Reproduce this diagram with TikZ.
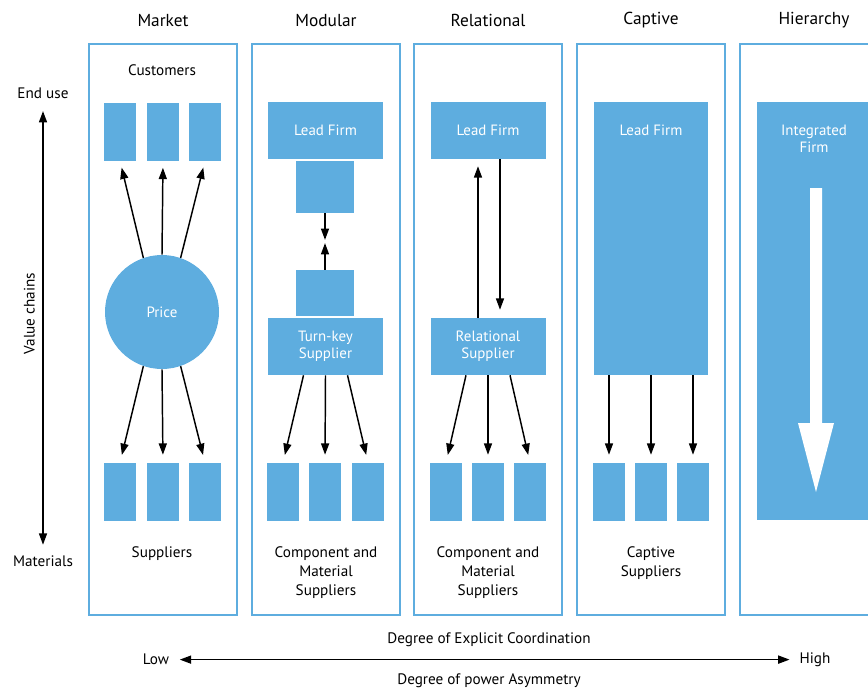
\documentclass[tikz,border=0pt]{standalone}
\usepackage{fontspec}
\setmainfont{PT Sans}
\usetikzlibrary{arrows.meta}
\definecolor{gvcblue}{RGB}{94,173,223}

\tikzset{
  frame/.style={draw=gvcblue, line width=1.3pt},
  blk/.style={fill=gvcblue, inner sep=0pt, text=white, align=center,
    font=\fontsize{11.2}{12.75}\selectfont},
  unit/.style={blk, minimum width=24pt, minimum height=43.5pt},
  firm/.style={blk, minimum width=86.25pt, minimum height=42.75pt},
  lbl/.style={align=center, yshift=-1.2pt, font=\fontsize{11.4}{14.25}\selectfont},
  ttl/.style={yshift=-0.8pt, font=\fontsize{13}{15}\selectfont},
  arr/.style={-{Triangle[length=8.5pt,width=6pt]}, line width=1.1pt},
  dbl/.style={{Triangle[length=8.5pt,width=6pt]}-{Triangle[length=8.5pt,width=6pt]}, line width=1.1pt},
}

\begin{document}
\begin{tikzpicture}[x=0.75pt,y=-0.75pt]
  \clip (0,0) rectangle (868,687);

  % panels and titles
  \foreach \px/\pname/\ptext in {89/market/Market,252/modular/Modular,414/relational/Relational,577/captive/Captive,740/hierarchy/Hierarchy}{
    \draw[frame] (\px,44) rectangle ++(148,571);
    \node[ttl] (t\pname) at (\px+74,19) {\ptext};
  }

  % market
  \node[lbl] (customers) at (162,69) {Customers};
  \node[unit] (mc1) at (120,131.5) {};
  \node[unit] (mc2) at (163,131.5) {};
  \node[unit] (mc3) at (205,131.5) {};
  \node[circle, fill=gvcblue, minimum size=85.5pt, inner sep=0pt, text=white,
    font=\fontsize{11.2}{12.75}\selectfont] (price) at (162,312) {Price};
  \node[unit] (ms1) at (120,492) {};
  \node[unit] (ms2) at (163,492) {};
  \node[unit] (ms3) at (205,492) {};
  \draw[arr, shorten >=5.25pt] (price.109) -- (mc1.south);
  \draw[arr, shorten >=5.25pt] (price.north) -- (mc2.south);
  \draw[arr, shorten >=5.25pt] (price.71) -- (mc3.south);
  \draw[arr, shorten >=6pt] (price.251) -- (ms1.north);
  \draw[arr, shorten >=6pt] (price.south) -- (ms2.north);
  \draw[arr, shorten >=6pt] (price.289) -- (ms3.north);
  \node[lbl] (suppliers) at (162,552) {Suppliers};

  % modular
  \node[firm] (mlead) at (325.5,130.5) {Lead Firm};
  \node[blk, minimum width=43.5pt, minimum height=39pt] (mup) at (325,187) {};
  \node[blk, minimum width=43.5pt, minimum height=34.5pt] (mlo) at (325,293) {};
  \node[firm] (turnkey) at (325.5,346.5) {Turn-key\\Supplier};
  \coordinate (mmid) at (325,241.5);
  \draw[arr, shorten >=1.2pt] (mup) -- (mmid);
  \draw[arr, shorten >=1.2pt] (mlo) -- (mmid);
  \node[unit] (mb1) at (283,492) {};
  \node[unit] (mb2) at (325,492) {};
  \node[unit] (mb3) at (368,492) {};
  \draw[arr, shorten >=6pt] ([xshift=-16.5pt]turnkey.south) -- (mb1.north);
  \draw[arr, shorten >=6pt] (turnkey.south) -- (mb2.north);
  \draw[arr, shorten >=6pt] ([xshift=16.5pt]turnkey.south) -- (mb3.north);
  \node[lbl] (mcomp) at (326,571) {Component and\\Material\\Suppliers};

  % relational
  \node[firm] (rlead) at (488,130.5) {Lead Firm};
  \node[firm] (rsup) at (488,346.5) {Relational\\Supplier};
  \draw[arr, shorten >=5.25pt] ([xshift=-7.5pt]rsup.north) -- ([xshift=-7.5pt]rlead.south);
  \draw[arr, shorten >=6pt] ([xshift=9pt]rlead.south) -- ([xshift=9pt]rsup.north);
  \node[unit] (rb1) at (446,492) {};
  \node[unit] (rb2) at (488,492) {};
  \node[unit] (rb3) at (530,492) {};
  \draw[arr, shorten >=6pt] ([xshift=-16.5pt]rsup.south) -- (rb1.north);
  \draw[arr, shorten >=6pt] (rsup.south) -- (rb2.north);
  \draw[arr, shorten >=6pt] ([xshift=16.5pt]rsup.south) -- (rb3.north);
  \node[lbl] (rcomp) at (488,571) {Component and\\Material\\Suppliers};

  % captive
  \node[blk, minimum width=85.5pt, minimum height=204.75pt] (clead) at (651,238.5) {};
  \node[blk] (cleadtxt) at ([yshift=-21.5pt]clead.north) {Lead Firm};
  \node[unit] (cb1) at (609,492) {};
  \node[unit] (cb2) at (651,492) {};
  \node[unit] (cb3) at (693,492) {};
  \draw[arr, shorten >=6pt] ([xshift=-31.5pt]clead.south) -- (cb1.north);
  \draw[arr, shorten >=6pt] (clead.south) -- (cb2.north);
  \draw[arr, shorten >=6pt] ([xshift=31.5pt]clead.south) -- (cb3.north);
  \node[lbl] (ccapt) at (651,561.5) {Captive\\Suppliers};

  % hierarchy
  \node[blk, minimum width=85.5pt, minimum height=313.5pt] (hfirm) at (814,311) {};
  \node[blk] (hfirmtxt) at (814,139) {Integrated\\Firm};
  \fill[white] (810,188) -- (822,188) -- (822,423) -- (834,423) -- (816,492)
    -- (798,423) -- (810,423) -- cycle;

  % value chain axis
  \node[lbl] (enduse) at (43,92) {End use};
  \node[lbl] (materials) at (43,560) {Materials};
  \draw[dbl, shorten <=5.5pt, shorten >=5pt] (enduse) -- (materials);
  \node[lbl, rotate=90, yshift=1.2pt] (vchain) at (31,312) {Value chains};

  % coordination axis
  \node[lbl] (coord) at (489,638) {Degree of Explicit Coordination};
  \node[lbl] (low) at (156,658) {Low};
  \node[lbl] (high) at (815,658) {High};
  \draw[dbl, shorten <=4.5pt, shorten >=4pt] (low) -- (high);
  \node[lbl] (asym) at (489,679) {Degree of power Asymmetry};
\end{tikzpicture}
\end{document}
